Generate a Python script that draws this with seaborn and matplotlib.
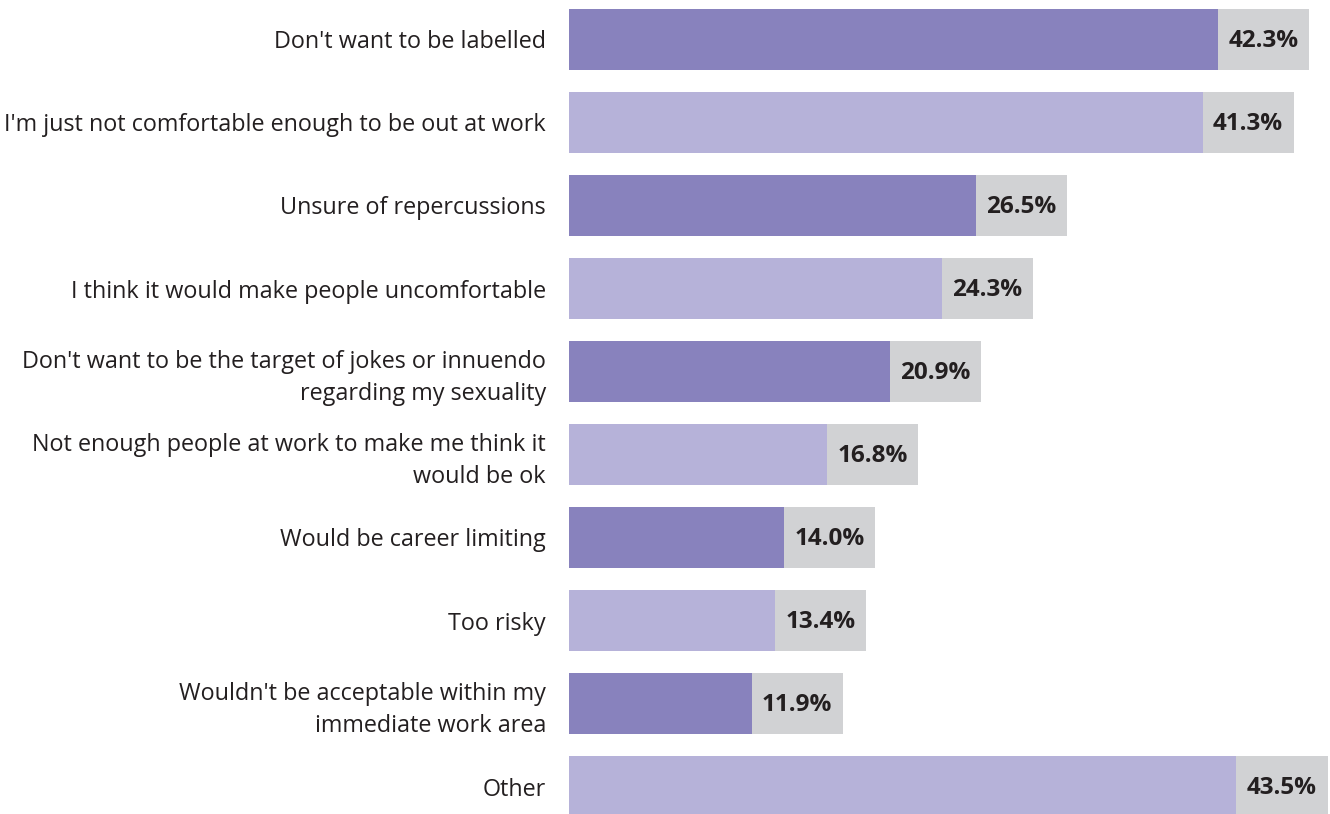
import matplotlib
matplotlib.use("Agg")
import matplotlib.pyplot as plt
import seaborn as sns
import pandas as pd

categories = [
    "Don't want to be labelled",
    "I'm just not comfortable enough to be out at work",
    "Unsure of repercussions",
    "I think it would make people uncomfortable",
    "Don't want to be the target of jokes or innuendo\nregarding my sexuality",
    "Not enough people at work to make me think it\nwould be ok",
    "Would be career limiting",
    "Too risky",
    "Wouldn't be acceptable within my\nimmediate work area",
    "Other",
]
values = [42.3, 41.3, 26.5, 24.3, 20.9, 16.8, 14.0, 13.4, 11.9, 43.5]

dark = "#8882bd"
light = "#b6b2d9"
grey = "#d1d2d4"
text_color = "#231f20"
label_pad = 5.95  # width of grey value box, in data units

sns.set_theme(style="white")
plt.rcParams["font.family"] = ["Open Sans", "DejaVu Sans"]

df = pd.DataFrame({"reason": categories, "pct": values})
df["box"] = df["pct"] + label_pad
df["shade"] = ["dark" if i % 2 == 0 else "light" for i in range(len(df))]

fig = plt.figure(figsize=(13.3, 8.14), dpi=100)
ax_left = 569 / 1330
ax = fig.add_axes([ax_left, 0, 1 - ax_left, 1])

sns.barplot(data=df, y="reason", x="box", color=grey, width=0.735,
            orient="h", ax=ax, saturation=1, linewidth=0, zorder=1)
sns.barplot(data=df, y="reason", x="pct", hue="shade",
            palette={"dark": dark, "light": light}, width=0.735,
            orient="h", ax=ax, saturation=1, linewidth=0,
            legend=False, dodge=False, zorder=2)

for i, v in enumerate(values):
    ax.text(v + label_pad / 2, i + 0.02, f"{v:.1f}%", ha="center", va="center",
            fontsize=17.5, fontweight="bold", color=text_color, zorder=3)

px_per_unit = 15.34
ax.set_xlim(0, (1330 - 569) / px_per_unit)
ax.set_ylim((814 - 39.5) / 83, -39.5 / 83)
ax.set_xlabel("")
ax.set_ylabel("")
ax.set_xticks([])
ax.tick_params(axis="y", length=0, pad=16.5)
for lbl in ax.get_yticklabels():
    lbl.set_fontsize(16.8)
    lbl.set_color(text_color)
    lbl.set_linespacing(1.42)
sns.despine(ax=ax, left=True, bottom=True)

fig.savefig("out.png", dpi=100)
